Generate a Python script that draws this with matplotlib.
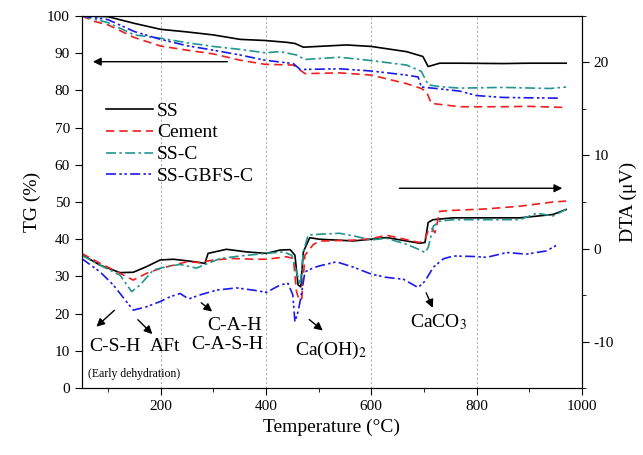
import numpy as np
import matplotlib
matplotlib.use('Agg')
from matplotlib import pyplot as plt
from matplotlib.ticker import MultipleLocator

plt.rcParams['font.family'] = ['Liberation Serif', 'DejaVu Serif']
plt.rcParams['mathtext.fontset'] = 'stix'
plt.rcParams['axes.unicode_minus'] = False

labels = ['SS', 'Cement', 'SS-C', 'SS-GBFS-C']
colors = ['black', '#f01e1e', '#21958f', '#1a1aee']
styles = ['-', (0, (5, 3)), (0, (6, 2, 1.5, 2)), (0, (6, 2, 1.5, 1.5, 1.5, 2))]

# TG curves (left axis, %)
tg_t_ss = [50, 100, 150, 200, 250, 300, 351, 398, 440, 455, 471, 553, 600, 667, 698, 708, 730, 768, 850, 900, 970]
tg_ss = [100, 99.8, 98.0, 96.4, 95.7, 94.9, 93.7, 93.4, 92.9, 92.6, 91.6, 92.2, 91.8, 90.4, 89.1, 86.4, 87.3, 87.3, 87.2, 87.3, 87.3]
tg_t_cem = [50, 75, 100, 150, 200, 250, 300, 351, 398, 452, 474, 540, 600, 667, 695, 705, 714, 768, 850, 900, 970]
tg_cem = [100, 98.5, 97.6, 94.2, 91.9, 90.8, 89.8, 88.1, 87.0, 86.8, 84.5, 84.7, 84.1, 81.8, 80.5, 79.6, 76.5, 75.6, 75.6, 75.7, 75.4]
tg_t_ssc = [50, 100, 150, 200, 250, 300, 351, 398, 427, 458, 474, 540, 600, 667, 695, 708, 730, 768, 850, 940, 970]
tg_ssc = [100, 98.2, 94.9, 94.0, 92.8, 91.8, 91.0, 90.1, 90.4, 89.5, 88.3, 88.9, 88.0, 86.8, 85.1, 81.5, 81.0, 80.6, 80.8, 80.5, 80.9]
tg_t_gb = [50, 100, 150, 200, 250, 300, 351, 398, 452, 465, 540, 600, 667, 689, 695, 730, 768, 800, 850, 900, 960]
tg_gb = [100, 99.0, 95.8, 93.7, 92.0, 90.8, 89.5, 88.1, 87.2, 85.6, 85.8, 85.2, 84.1, 83.6, 80.9, 80.4, 79.8, 78.6, 78.1, 78.0, 77.9]

# DTA curves (right axis, uV)
dta_t_ss = [50, 85, 123, 148, 173, 199, 224, 249, 275, 284, 290, 325, 363, 401, 427, 446, 455, 461, 466, 471, 483, 502,
            566, 600, 629, 692, 702, 708, 717, 755, 819, 882, 945, 970]
dta_ss = [-0.64, -1.79, -2.59, -2.55, -1.95, -1.23, -1.15, -1.31, -1.51, -1.6, -0.52, -0.08, -0.36, -0.52, -0.16, -0.12,
          -0.72, -3.91, -4.11, -0.36, 1.16, 1.0, 0.82, 1.0, 1.18, 0.57, 0.65, 2.8, 3.1, 3.3, 3.3, 3.3, 3.66, 4.2]
dta_t_cem = [50, 85, 123, 148, 173, 199, 224, 249, 275, 300, 338, 376, 401, 439, 452, 458, 463, 468, 474, 490, 502,
             566, 600, 629, 692, 702, 708, 714, 721, 730, 755, 819, 882, 945, 970]
dta_cem = [-0.52, -1.59, -2.67, -3.39, -2.67, -2.15, -1.79, -1.43, -1.51, -1.23, -1.07, -1.15, -1.15, -0.88, -1.07,
           -4.63, -5.54, -5.4, -0.72, 0.44, 0.8, 0.9, 1.07, 1.43, 0.64, 1.0, 1.9, 2.25, 1.7, 4.0, 4.1, 4.26, 4.55, 5.0, 5.1]
dta_t_ssc = [50, 85, 123, 145, 161, 186, 211, 237, 256, 268, 281, 313, 351, 401, 433, 449, 458, 465, 471, 480, 502,
             540, 566, 600, 629, 667, 692, 702, 708, 718, 730, 755, 819, 882, 914, 945, 970]
dta_ssc = [-0.72, -1.79, -2.87, -4.63, -3.91, -2.31, -1.95, -1.71, -1.95, -2.11, -1.79, -1.07, -0.8, -0.52, -0.36,
           -0.72, -2.51, -3.91, -0.36, 1.44, 1.54, 1.64, 1.36, 0.93, 1.1, 0.46, -0.14, -0.43, 0.1, 2.43, 2.94, 3.1,
           3.1, 3.1, 3.8, 3.5, 4.2]
dta_t_gb = [50, 85, 110, 135, 148, 173, 199, 218, 237, 253, 275, 306, 344, 376, 401, 427, 442, 451, 455, 461, 466,
            474, 490, 502, 534, 566, 600, 629, 661, 689, 702, 718, 737, 756, 799, 819, 857, 895, 933, 955]
dta_gb = [-1.07, -2.51, -3.91, -5.7, -6.62, -6.26, -5.7, -5.18, -4.83, -5.42, -4.98, -4.47, -4.23, -4.47, -4.71,
          -3.91, -3.75, -4.98, -7.86, -6.78, -5.34, -2.51, -2.07, -1.86, -1.43, -2.0, -2.75, -3.1, -3.3, -4.2, -3.5,
          -2.0, -1.1, -0.8, -0.86, -0.95, -0.43, -0.6, -0.25, 0.46]

tg_t = [tg_t_ss, tg_t_cem, tg_t_ssc, tg_t_gb]
tg_v = [tg_ss, tg_cem, tg_ssc, tg_gb]
dta_t = [dta_t_ss, dta_t_cem, dta_t_ssc, dta_t_gb]
dta_v = [dta_ss, dta_cem, dta_ssc, dta_gb]

fig = plt.figure(figsize=(6.43, 4.55), dpi=100)
ax = fig.add_axes([0.127, 0.147, 0.778, 0.818])
ax2 = ax.twinx()

for i in range(4):
    ax.plot(tg_t[i], tg_v[i], color=colors[i], linestyle=styles[i], lw=1.2, label=labels[i])
    ax2.plot(dta_t[i], dta_v[i], color=colors[i], linestyle=styles[i], lw=1.2)

ax.set_xlim(50, 1000)
ax.set_ylim(0, 100)
ax2.set_ylim(-15, 25)
ax.xaxis.set_major_locator(MultipleLocator(200))
ax.xaxis.set_minor_locator(MultipleLocator(100))
ax.yaxis.set_major_locator(MultipleLocator(10))
ax2.yaxis.set_major_locator(MultipleLocator(10))
ax2.yaxis.set_minor_locator(MultipleLocator(5))
for a in (ax, ax2):
    a.tick_params(which='both', direction='out', labelsize=11)
    a.tick_params(which='major', length=5)
    a.tick_params(which='minor', length=3)
ax.grid(axis='x', which='major', linestyle=(0, (2, 2)), color='#b0b0b0', lw=0.8)

ax.set_xlabel('Temperature (°C)', fontsize=14)
ax.set_ylabel('TG (%)', fontsize=14)
ax2.set_ylabel('DTA (μV)', fontsize=14)

ax.legend(loc='upper left', bbox_to_anchor=(0.03, 0.795), frameon=False, fontsize=14,
          handlelength=2.4, handletextpad=0.2, labelspacing=0.22, borderpad=0)

arrow = dict(arrowstyle='-|>', color='black', lw=1.0, mutation_scale=12)
ax.annotate('', xy=(66, 87.7), xytext=(332, 87.7), arrowprops=arrow)
ax.annotate('', xy=(968, 53.7), xytext=(648, 53.7), arrowprops=arrow)
ax.annotate('', xy=(74, 16), xytext=(116, 21.4), arrowprops=arrow)
ax.annotate('', xy=(188, 14), xytext=(153, 18.9), arrowprops=arrow)
ax.annotate('', xy=(302, 20.1), xytext=(273, 23.4), arrowprops=arrow)
ax.annotate('', xy=(512, 15), xytext=(478, 18.9), arrowprops=arrow)
ax.annotate('', xy=(719, 20.9), xytext=(702, 26.3), arrowprops=arrow)

ax.text(113, 11.3, 'C-S-H', fontsize=14, ha='center', va='center')
ax.text(209, 11.3, 'AFt', fontsize=14, ha='center', va='center')
ax.text(340, 16.9, 'C-A-H', fontsize=14, ha='center', va='center')
ax.text(327, 11.8, 'C-A-S-H', fontsize=14, ha='center', va='center')
ax.text(62, 3.7, '(Early dehydration)', fontsize=8.5, ha='left', va='center')
ax.text(524, 10.0, 'Ca(OH)$_2$', fontsize=14, ha='center', va='center')
ax.text(728, 17.8, 'CaCO$_3$', fontsize=14, ha='center', va='center')

fig.savefig('out.png', dpi=100)
